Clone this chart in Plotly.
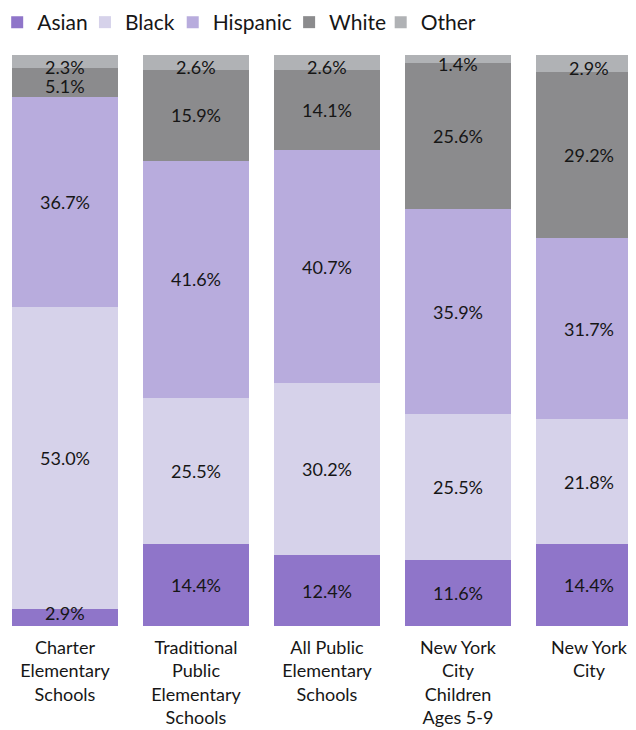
import plotly.graph_objects as go

# 数据
categories = [
    'Charter<br>Elementary<br>Schools',
    'Traditional<br>Public<br>Elementary<br>Schools',
    'All Public<br>Elementary<br>Schools',
    'New York<br>City<br>Children<br>Ages 5-9',
    'New York<br>City',
]
asian = [2.9, 14.4, 12.4, 11.6, 14.4]
black = [53.0, 25.5, 30.2, 25.5, 21.8]
hispanic = [36.7, 41.6, 40.7, 35.9, 31.7]
white = [5.1, 15.9, 14.1, 25.6, 29.2]
other = [2.3, 2.6, 2.6, 1.4, 2.9]

series = [
    ('Asian', asian, '#8f75c9'),
    ('Black', black, '#d6d2ea'),
    ('Hispanic', hispanic, '#b8acdd'),
    ('White', white, '#8b8b8d'),
    ('Other', other, '#b0b2b5'),
]

FONT = 'Lato'
INK = '#161616'

# 图例位置（每项单独一个图例，间距贴近原图）
legend_x = [-0.017, 0.121, 0.259, 0.442, 0.586]
legend_ids = ['legend', 'legend2', 'legend3', 'legend4', 'legend5']

fig = go.Figure()
base = [0.0] * len(categories)
for i, (name, vals, color) in enumerate(series):
    fig.add_trace(go.Bar(
        x=categories, y=vals, name=name,
        marker=dict(color=color, line=dict(width=0)),
        hovertemplate='%{x}<br>' + name + ': %{y:.1f}%<extra></extra>',
        legend=legend_ids[i],
    ))
    # 数值标签：放在每段中间，小段稍微挪开，避免挤在一起
    for j, v in enumerate(vals):
        shift = 0
        if v < 6:
            if i == 0:
                shift = 5
            elif i == len(series) - 1:
                shift = -5
            else:
                shift = -3
        fig.add_annotation(
            x=categories[j], y=base[j] + v / 2, yshift=shift,
            text=f'{v:.1f}%', showarrow=False,
            font=dict(family=FONT, size=18, color=INK),
        )
        base[j] += v

legend_layout = {}
for lid, lx in zip(legend_ids, legend_x):
    legend_layout[lid] = dict(
        orientation='h', x=lx, xanchor='left', y=1.021, yanchor='bottom',
        font=dict(family=FONT, size=21, color=INK),
        itemwidth=30, bgcolor='rgba(0,0,0,0)',
    )

fig.update_layout(
    barmode='stack',
    bargap=0.19,
    width=636, height=730,
    plot_bgcolor='white', paper_bgcolor='white',
    font=dict(family=FONT, size=18, color=INK),
    margin=dict(l=0, r=0, t=47, b=112, autoexpand=False),
    showlegend=True,
    **legend_layout,
)
fig.update_xaxes(
    range=[-0.435, 4.42], showgrid=False, showline=False, zeroline=False,
    ticks='', ticklabelstandoff=9,
    tickfont=dict(family=FONT, size=18, color=INK),
)
fig.update_yaxes(
    range=[0, 100], showgrid=False, showline=False, zeroline=False,
    showticklabels=False, ticks='',
)

fig.write_html('out.html')
